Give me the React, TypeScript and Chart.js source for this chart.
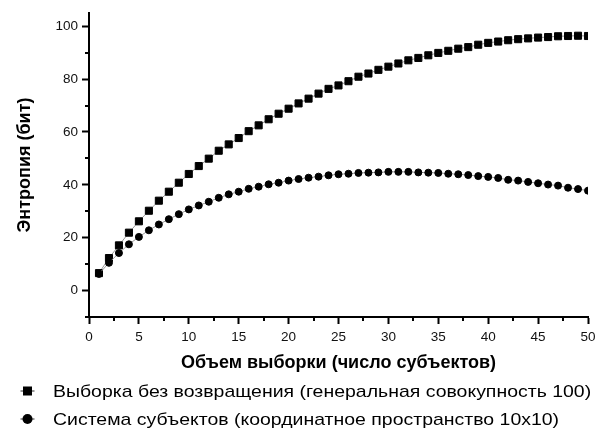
import React, { useEffect, useRef } from 'react';
import { Chart, registerables } from 'chart.js';

Chart.register(...registerables);

const sampleSize = [
  1, 2, 3, 4, 5, 6, 7, 8, 9, 10,
  11, 12, 13, 14, 15, 16, 17, 18, 19, 20,
  21, 22, 23, 24, 25, 26, 27, 28, 29, 30,
  31, 32, 33, 34, 35, 36, 37, 38, 39, 40,
  41, 42, 43, 44, 45, 46, 47, 48, 49, 50,
];

const withoutReplacement = [
  6.6, 12.3, 17.1, 21.9, 26.2, 30.2, 34.0, 37.4, 40.8, 44.1,
  47.1, 49.9, 52.9, 55.3, 57.7, 60.3, 62.5, 64.8, 66.9, 68.8,
  70.8, 72.6, 74.5, 76.3, 77.6, 79.2, 80.9, 82.1, 83.5, 84.7,
  85.9, 87.1, 88.0, 89.0, 89.9, 90.7, 91.5, 92.1, 93.0, 93.7,
  94.2, 94.7, 95.1, 95.4, 95.7, 95.9, 96.2, 96.3, 96.4, 96.3,
];

const subjectSystem = [
  6.3, 10.5, 14.2, 17.5, 20.3, 22.8, 25.0, 27.0, 28.9, 30.7,
  32.2, 33.6, 35.1, 36.4, 37.4, 38.5, 39.3, 40.2, 40.8, 41.6,
  42.2, 42.7, 43.1, 43.6, 44.0, 44.2, 44.5, 44.6, 44.7, 44.9,
  44.9, 44.9, 44.7, 44.6, 44.5, 44.2, 44.0, 43.7, 43.3, 43.0,
  42.6, 41.9, 41.6, 41.1, 40.6, 40.1, 39.7, 38.9, 38.4, 37.8,
];

const xMajorTicks = [0, 5, 10, 15, 20, 25, 30, 35, 40, 45, 50];
const xMinorTicks = [2.5, 7.5, 12.5, 17.5, 22.5, 27.5, 32.5, 37.5, 42.5, 47.5];
const yMajorTicks = [0, 20, 40, 60, 80, 100];
const yMinorTicks = [-10, 10, 30, 50, 70, 90];

const xTitle = 'Объем выборки (число субъектов)';
const yTitle = 'Энтропия (бит)';
const legendLabels = [
  'Выборка без возвращения (генеральная совокупность 100)',
  'Система субъектов (координатное пространство 10x10)',
];

const FONT = '"Liberation Sans", Arial, sans-serif';

const customPlugin = {
  id: 'customDecor',
  afterDraw(chart: any) {
    const { ctx, chartArea, scales } = chart;
    const x = scales.x;
    const y = scales.y;
    ctx.save();
    ctx.strokeStyle = '#000';
    ctx.lineWidth = 2;
    xMinorTicks.forEach((v) => {
      const px = Math.round(x.getPixelForValue(v));
      ctx.beginPath();
      ctx.moveTo(px, chartArea.bottom);
      ctx.lineTo(px, chartArea.bottom + 4);
      ctx.stroke();
    });
    yMinorTicks.forEach((v) => {
      const py = Math.round(y.getPixelForValue(v));
      ctx.beginPath();
      ctx.moveTo(chartArea.left - 4, py);
      ctx.lineTo(chartArea.left, py);
      ctx.stroke();
    });

    // legend
    const rows = [
      { cy: 391, base: 397, style: 'rect' },
      { cy: 419, base: 424.5, style: 'circle' },
    ];
    ctx.font = `17px ${FONT}`;
    ctx.textBaseline = 'alphabetic';
    ctx.textAlign = 'left';
    rows.forEach((r, i) => {
      const mx = 27.5;
      ctx.strokeStyle = '#333';
      ctx.lineWidth = 1;
      ctx.beginPath();
      ctx.moveTo(mx - 7, r.cy);
      ctx.lineTo(mx + 7, r.cy);
      ctx.stroke();
      ctx.fillStyle = '#000';
      if (r.style === 'rect') {
        ctx.fillRect(mx - 4.5, r.cy - 4.5, 9, 9);
      } else {
        ctx.beginPath();
        ctx.arc(mx, r.cy, 5, 0, Math.PI * 2);
        ctx.fill();
      }
      ctx.save();
      ctx.translate(53, r.base);
      ctx.scale(1.145, 1);
      ctx.fillText(legendLabels[i], 0, 0);
      ctx.restore();
    });
    ctx.restore();
  },
};

export default function App() {
  const ref = useRef<HTMLCanvasElement | null>(null);

  useEffect(() => {
    if (!ref.current) return;
    const chart = new Chart(ref.current, {
      type: 'line',
      data: {
        datasets: [
          {
            label: legendLabels[1],
            data: sampleSize.map((s, i) => ({ x: s, y: subjectSystem[i] })),
            showLine: true,
            borderColor: '#999',
            borderWidth: 1,
            pointStyle: 'circle',
            pointRadius: 3.5,
            pointBorderWidth: 1,
            pointBackgroundColor: '#000',
            pointBorderColor: '#000',
          },
          {
            label: legendLabels[0],
            data: sampleSize.map((s, i) => ({ x: s, y: withoutReplacement[i] })),
            showLine: true,
            borderColor: '#999',
            borderWidth: 1,
            pointStyle: 'rect',
            pointRadius: 5,
            pointBorderWidth: 1,
            pointBackgroundColor: '#000',
            pointBorderColor: '#000',
          },
        ],
      },
      options: {
        responsive: false,
        animation: false,
        layout: { padding: { top: 13, right: 9, left: 0, bottom: 0 } },
        plugins: {
          legend: { display: false },
          tooltip: { enabled: false },
        },
        scales: {
          x: {
            type: 'linear',
            min: 0,
            max: 50,
            afterBuildTicks: (scale: any) => {
              scale.ticks = xMajorTicks.map((v) => ({ value: v }));
            },
            afterFit: (scale: any) => {
              scale.height = 113;
              scale.paddingLeft = 0;
              scale.paddingRight = 0;
            },
            grid: {
              drawOnChartArea: false,
              drawTicks: true,
              tickLength: 7,
              tickWidth: 2,
              tickColor: '#000',
            },
            border: { display: true, color: '#000', width: 2 },
            ticks: {
              color: '#111',
              font: { family: FONT, size: 13.5 },
              padding: 5,
              maxRotation: 0,
              autoSkip: false,
              callback: (v: any) => String(v),
            },
            title: {
              display: true,
              text: xTitle,
              color: '#000',
              font: { family: FONT, size: 18, weight: 'bold' },
              padding: { top: 0, bottom: 56 },
            },
          },
          y: {
            type: 'linear',
            min: -10,
            max: 105,
            afterBuildTicks: (scale: any) => {
              scale.ticks = yMajorTicks.map((v) => ({ value: v }));
            },
            afterFit: (scale: any) => {
              scale.width = 89;
              scale.paddingTop = 0;
              scale.paddingBottom = 0;
            },
            grid: {
              drawOnChartArea: false,
              drawTicks: true,
              tickLength: 7,
              tickWidth: 2,
              tickColor: '#000',
            },
            border: { display: true, color: '#000', width: 2 },
            ticks: {
              color: '#111',
              font: { family: FONT, size: 13.5 },
              padding: 4,
              autoSkip: false,
              callback: (v: any) => String(v),
            },
            title: {
              display: true,
              text: yTitle,
              color: '#000',
              font: { family: FONT, size: 18, weight: 'bold' },
              padding: { top: 14, bottom: 0 },
            },
          },
        },
      },
      plugins: [customPlugin],
    });
    return () => chart.destroy();
  }, []);

  return (
    <div
      style={{
        position: 'fixed',
        left: 0,
        top: 0,
        width: 597,
        height: 430,
        background: '#fff',
      }}
    >
      <canvas ref={ref} width={597} height={430} style={{ display: 'block' }} />
    </div>
  );
}
